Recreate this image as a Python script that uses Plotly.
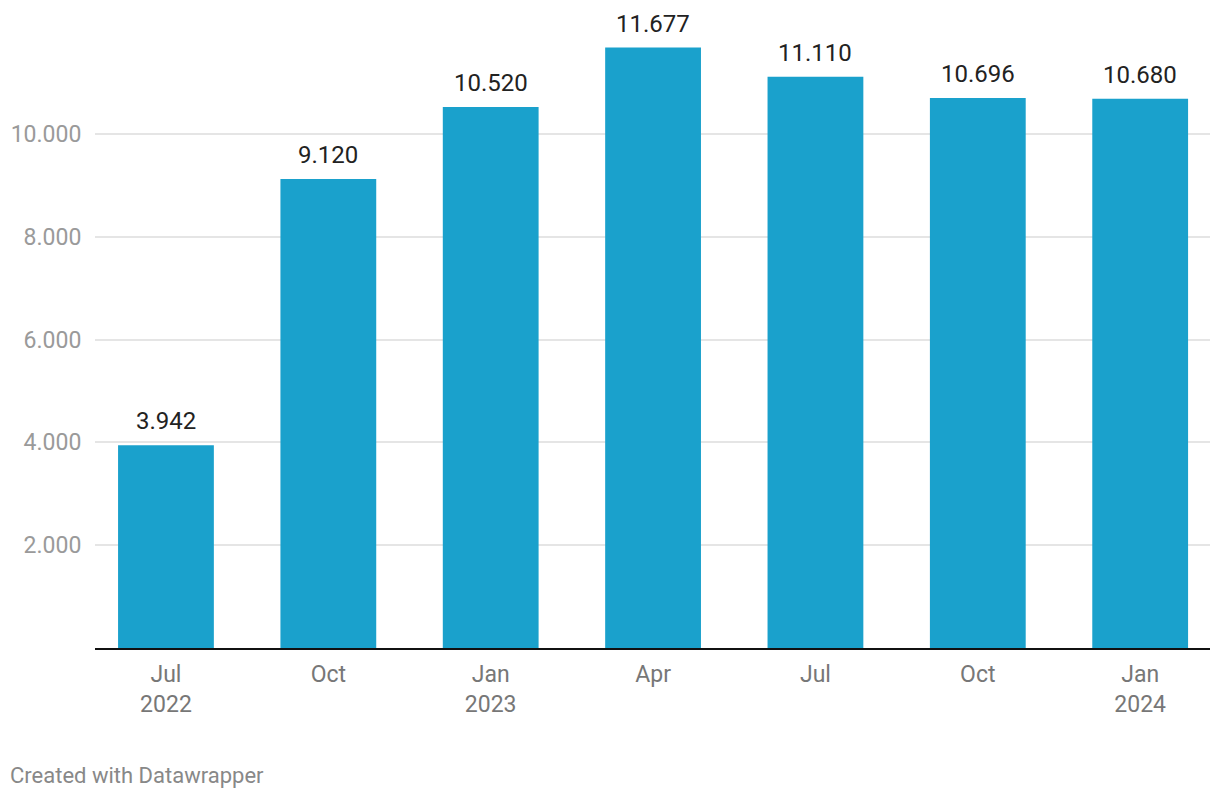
import plotly.graph_objects as go

quarters = ["Jul<br>2022", "Oct", "Jan<br>2023", "Apr", "Jul", "Oct", "Jan<br>2024"]
values = [3942, 9120, 10520, 11677, 11110, 10696, 10680]
y_ticks = [2000, 4000, 6000, 8000, 10000]

x_pos = list(range(len(quarters)))

fig = go.Figure(go.Bar(
    x=x_pos,
    y=values,
    width=0.59,
    marker=dict(color="#1aa1cc", line=dict(width=0)),
    hoverinfo="skip",
))

# value labels above the bars
for xp, v in zip(x_pos, values):
    fig.add_annotation(
        x=xp, y=v, text=f"{v:,}".replace(",", "."),
        xanchor="center", yanchor="bottom", yshift=8, showarrow=False,
        font=dict(family="Roboto", size=24, color="#222222"),
    )

fig.add_annotation(
    text="Created with Datawrapper", xref="paper", yref="paper",
    x=-87 / 1115, y=-(776 - 648) / 617, xanchor="left", yanchor="middle",
    showarrow=False, font=dict(family="Roboto", size=22, color="#888888"),
)

fig.update_layout(
    width=1220, height=800,
    margin=dict(l=87, r=18, t=23, b=160),
    plot_bgcolor="white", paper_bgcolor="white",
    separators=",.",
    showlegend=False,
    font=dict(family="Roboto", size=23),
)

fig.update_xaxes(
    tickvals=x_pos, ticktext=quarters,
    range=[-0.437, 6.43],
    showgrid=False, zeroline=False, automargin=False,
    showline=True, linecolor="#111111", linewidth=2,
    ticks="outside", ticklen=4, tickcolor="rgba(0,0,0,0)",
    tickfont=dict(family="Roboto", size=23, color="#777777"),
)

fig.update_yaxes(
    range=[0, 12000], tickvals=y_ticks, tickformat=",.0f",
    showgrid=True, gridcolor="#e5e5e5", gridwidth=1.5,
    zeroline=False, showline=False, automargin=False,
    ticks="outside", ticklen=8, tickcolor="rgba(0,0,0,0)",
    tickfont=dict(family="Roboto", size=23, color="#9a9a9a"),
)

fig.write_html("out.html")
